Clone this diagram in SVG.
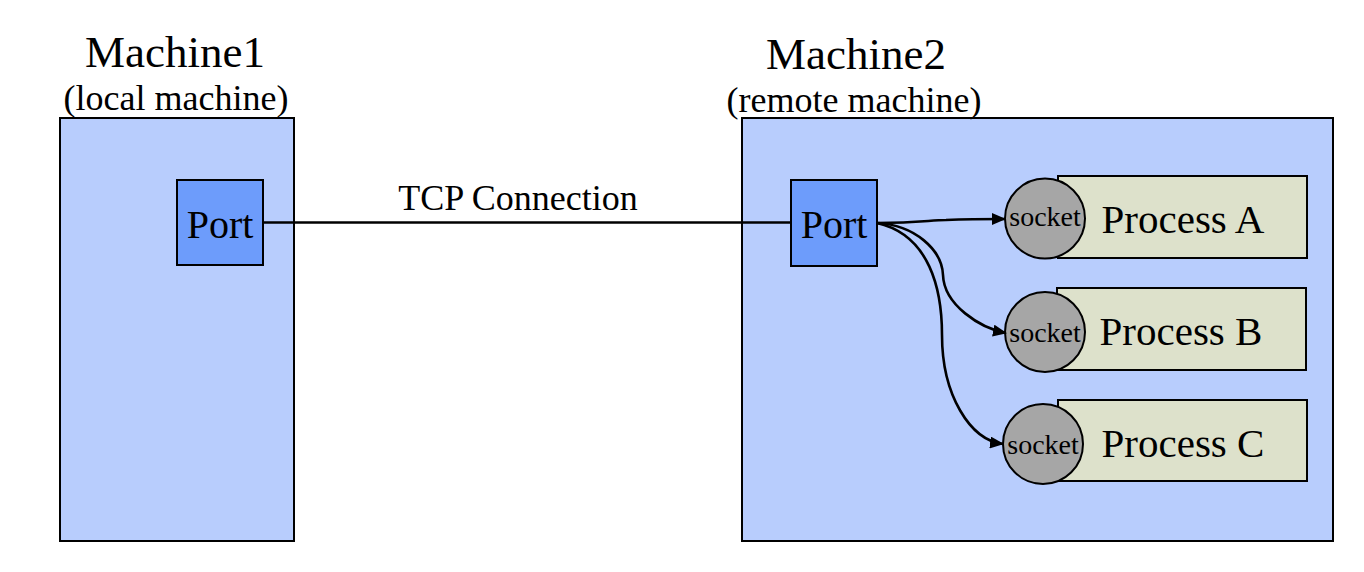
<svg xmlns="http://www.w3.org/2000/svg" width="1364" height="572" viewBox="0 0 1364 572">
<style>
text{font-family:"Liberation Serif","Times New Roman",serif;fill:#000}
.machine{fill:#b8cdfd;stroke:#000;stroke-width:2}
.port{fill:#6d9cfb;stroke:#000;stroke-width:2}
.proc{fill:#dde1cb;stroke:#000;stroke-width:2}
.sock{fill:#a6a6a6;stroke:#000;stroke-width:2}
.edge{fill:none;stroke:#000;stroke-width:2.6}
.t45{font-size:45px}
.t36{font-size:36px}
.t40{font-size:40px}
.t42{font-size:41px}
.ts{font-size:28px}
</style>
<defs>
<marker id="arr" markerWidth="14" markerHeight="12" refX="13" refY="6" orient="auto" markerUnits="userSpaceOnUse">
<path d="M0,0 L14,6 L0,12 Z" fill="#000"/>
</marker>
</defs>
<rect width="1364" height="572" fill="#fff"/>
<g id="machine1">
<rect class="machine" x="60" y="118" width="234" height="423"/>
<text class="t45" x="175" y="67" text-anchor="middle">Machine1</text>
<text class="t36" x="176" y="110" text-anchor="middle">(local machine)</text>
</g>
<g id="machine2">
<rect class="machine" x="742" y="118" width="591" height="423"/>
<text class="t45" x="856" y="69" text-anchor="middle">Machine2</text>
<text class="t36" x="854" y="112" text-anchor="middle">(remote machine)</text>
</g>
<g id="port1">
<rect class="port" x="177" y="180" width="86" height="85"/>
<text class="t40" x="220" y="238" text-anchor="middle">Port</text>
</g>
<g id="port2">
<rect class="port" x="791" y="180" width="86" height="86"/>
<text class="t40" x="834" y="238" text-anchor="middle">Port</text>
</g>
<g id="processA">
<rect class="proc" x="1058" y="176" width="249" height="82"/>
<circle class="sock" cx="1045" cy="218.5" r="40"/>
<text class="ts" x="1045" y="226" text-anchor="middle">socket</text>
<text class="t42" x="1183" y="233" text-anchor="middle">Process A</text>
</g>
<g id="processB">
<rect class="proc" x="1057" y="288" width="249" height="82"/>
<circle class="sock" cx="1045" cy="332" r="40"/>
<text class="ts" x="1045" y="342" text-anchor="middle">socket</text>
<text class="t42" x="1181" y="345" text-anchor="middle">Process B</text>
</g>
<g id="processC">
<rect class="proc" x="1058" y="400" width="249" height="81"/>
<circle class="sock" cx="1043" cy="444" r="40"/>
<text class="ts" x="1043" y="454" text-anchor="middle">socket</text>
<text class="t42" x="1183" y="457" text-anchor="middle">Process C</text>
</g>
<g id="connectors">
<line class="edge" x1="263" y1="222.5" x2="791" y2="222.5"/>
<text class="t36" x="518" y="210" text-anchor="middle">TCP Connection</text>
<path class="edge" marker-end="url(#arr)" d="M877,223 C920,223 930,220 946,220 C970,219 985,219 1005,219"/>
<path class="edge" marker-end="url(#arr)" d="M877,223 C915,225 942,250 943,275 C944,305 980,328 1006,333"/>
<path class="edge" marker-end="url(#arr)" d="M877,223 C930,235 942,290 942,335 C942,395 970,440 1003,444"/>
</g>
</svg>
